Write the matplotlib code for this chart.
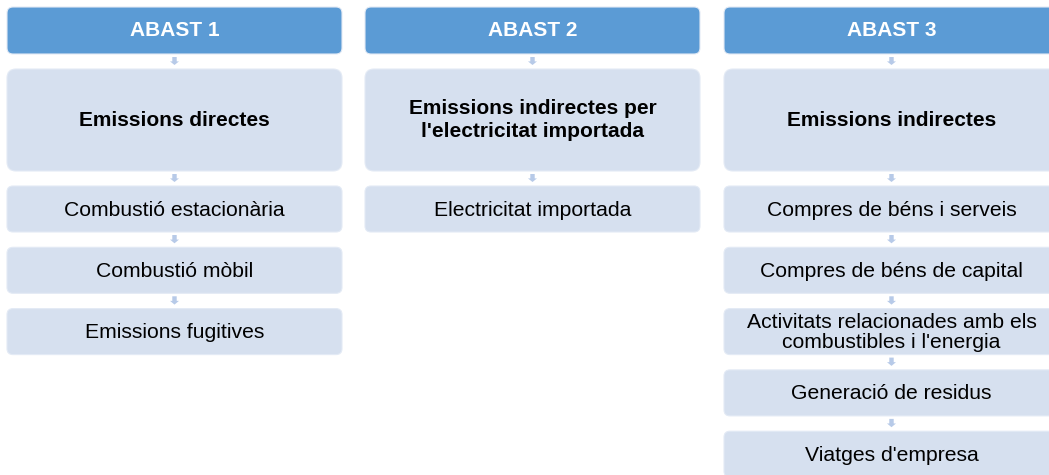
import matplotlib.pyplot as plt
from matplotlib.patches import FancyBboxPatch, Polygon

plt.rcParams['font.family'] = ['Liberation Sans', 'DejaVu Sans']

# diagram content
headers = ["ABAST 1", "ABAST 2", "ABAST 3"]
titles = ["Emissions directes",
          "Emissions indirectes per\nl'electricitat importada",
          "Emissions indirectes"]
items_1 = ["Combustió estacionària", "Combustió mòbil", "Emissions fugitives"]
items_2 = ["Electricitat importada"]
items_3 = ["Compres de béns i serveis", "Compres de béns de capital",
           "Activitats relacionades amb els\ncombustibles i l'energia",
           "Generació de residus", "Viatges d'empresa"]
items = [items_1, items_2, items_3]

header_col = "#5b9bd5"
box_col = "#d6e0ef"
edge_col = "#e3eaf5"
arrow_col = "#b7cae8"

col_x = [7, 365, 724]
col_w = 335

fig = plt.figure(figsize=(10.49, 4.75), dpi=100)
ax = fig.add_axes([0, 0, 1, 1])
ax.set_xlim(0, 1049)
ax.set_ylim(475, 0)
ax.axis("off")


def box(x, y, w, h, color, r=6):
    p = FancyBboxPatch((x + r, y + r), w - 2 * r, h - 2 * r,
                       boxstyle="round,pad=%d" % r, fc=color, ec=edge_col, lw=0.8)
    ax.add_patch(p)


def arrow(cx, y0, y1):
    hh = (y1 - y0) * 0.45
    pts = [(cx - 2.2, y0), (cx + 2.2, y0), (cx + 2.2, y1 - hh), (cx + 4.5, y1 - hh),
           (cx, y1), (cx - 4.5, y1 - hh), (cx - 2.2, y1 - hh)]
    ax.add_patch(Polygon(pts, closed=True, fc=arrow_col, ec="none"))


for i in range(3):
    x = col_x[i]
    cx = x + col_w / 2
    # header
    box(x, 7, col_w, 47, header_col)
    ax.text(cx, 31, headers[i], color="white", fontsize=15, fontweight="bold",
            ha="center", va="center")
    arrow(cx, 57, 65)
    # title box
    box(x, 69, col_w, 102, box_col, r=9)
    ax.text(cx, 120, titles[i], color="black", fontsize=15, fontweight="bold",
            ha="center", va="center", linespacing=1.25)
    y = 186
    prev = 171
    for item in items[i]:
        arrow(cx, prev + 3, y - 4)
        box(x, y, col_w, 46, box_col)
        ax.text(cx, y + 24, item, color="black", fontsize=15.2,
                ha="center", va="center", linespacing=1.08)
        prev = y + 46
        y += 61.3

fig.savefig("out.png", dpi=100)
